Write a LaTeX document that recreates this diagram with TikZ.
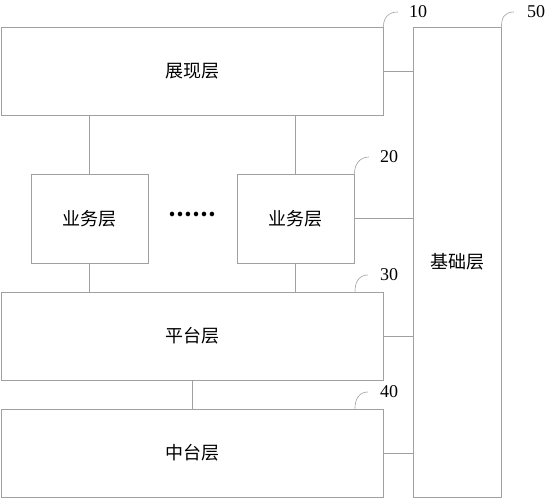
\documentclass[tikz,border=0pt]{standalone}
\usepackage{fontspec}
\setmainfont{Liberation Serif}
\newfontfamily\cjk{Noto Sans CJK SC}
\usetikzlibrary{positioning}
\definecolor{linegray}{HTML}{A0A0A0}

\begin{document}
\begin{tikzpicture}[x=1pt, y=-1pt,
            layer/.style={draw=linegray, line width=0.9pt, inner sep=0, font=\cjk\fontsize{18}{21}\selectfont},
            wide/.style={layer, minimum width=382pt, minimum height=88pt},
            biz/.style={layer, minimum width=117pt, minimum height=89pt},
            lbl/.style={inner sep=0, font=\fontsize{18}{21}\selectfont},
            conn/.style={draw=linegray, line width=0.9pt},
            lead/.style={draw=linegray, line width=0.6pt}]
            \useasboundingbox (0,0) rectangle (548,500);
            % layers
            \node[wide] (show) at (192,71) {展现层};
            \node[biz] (bizA) at (89.5,218.5) {业务层};
            \node[biz] (bizB) at (295.5,218.5) {业务层};
            \node[font=\cjk\bfseries\fontsize{21}{24}\selectfont, inner sep=0] (dots) at (192,214) {……};
            \node[wide] (plat) at (192.5,336) {平台层};
            \node[wide] (mid) at (192.5,453) {中台层};
            \node[layer, minimum width=88pt, minimum height=470pt] (base) at (457,262) {基础层};

            % connectors
            \draw[conn] (bizA.north) -- (bizA.north |- show.south);
            \draw[conn] (bizB.north) -- (bizB.north |- show.south);
            \draw[conn] (bizA.south) -- (bizA.south |- plat.north);
            \draw[conn] (bizB.south) -- (bizB.south |- plat.north);
            \draw[conn] (plat.south) -- (mid.north);
            \foreach \n in {show, bizB, plat, mid} {
                \draw[conn] (\n.east) -- (\n.east -| base.west);
            }

            % reference numbers
            \node[lbl] (l10) at (418,12) {10};
            \node[lbl] (l50) at (536,12) {50};
            \node[lbl] (l20) at (389,157) {20};
            \node[lbl] (l30) at (389,275) {30};
            \node[lbl] (l40) at (389,392) {40};
            \draw[lead] (show.north east) .. controls +(0,-9) and +(-9,0) .. ([xshift=-11pt]l10.west);
            \draw[lead] (base.north east) .. controls +(0,-9) and +(-9,0) .. ([xshift=-13pt]l50.west);
            \draw[lead] (bizB.north east) .. controls +(0,-9) and +(-9,0) .. ([xshift=-11pt]l20.west);
            \draw[lead] ([xshift=-29pt]plat.north east) .. controls +(0,-9) and +(-9,0) .. ([xshift=-12pt]l30.west);
            \draw[lead] ([xshift=-29pt]mid.north east) .. controls +(0,-9) and +(-9,0) .. ([xshift=-12pt]l40.west);
        \end{tikzpicture}
\end{document}
